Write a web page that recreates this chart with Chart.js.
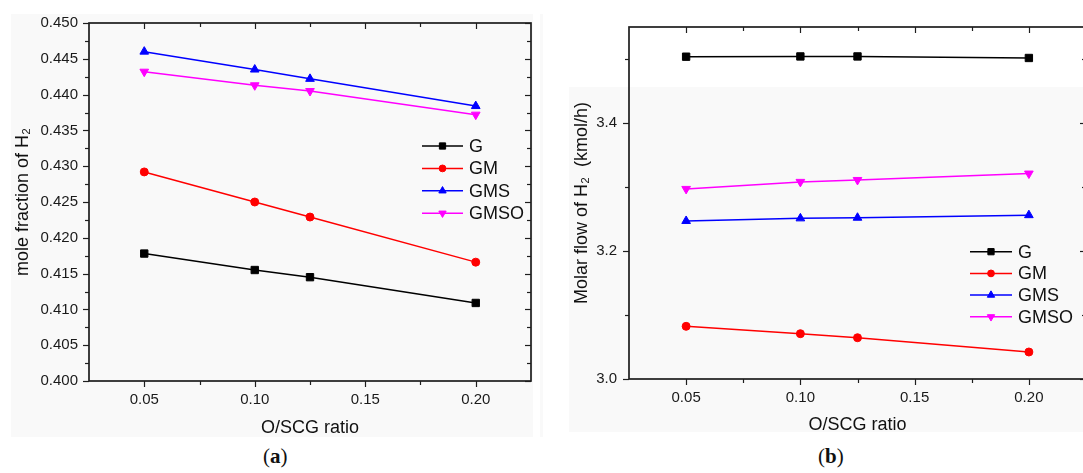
<!DOCTYPE html>
<html>
<head>
<meta charset="utf-8">
<script src="https://cdn.jsdelivr.net/npm/chart.js@4.4.1/dist/chart.umd.min.js"></script>
<style>
  html, body { margin: 0; padding: 0; width: 1083px; height: 473px; overflow: hidden; background: #fff; }
  body { position: relative; font-family: "Liberation Sans", Arial, sans-serif; }
  .bg { position: absolute; background: #f9f9f9; }
  .box { position: absolute; }
  .cap { position: absolute; font-family: "Liberation Serif", "DejaVu Serif", serif; font-size: 21px; color: #111; }
</style>
</head>
<body>
<div class="bg" style="left:11px;top:14px;width:522px;height:423px"></div>
<div class="bg" style="left:540px;top:14px;width:3px;height:423px"></div>
<div class="bg" style="left:569px;top:87px;width:520px;height:345px"></div>
<div class="box" style="left:0;top:0;width:540px;height:440px"><canvas id="chartA"></canvas></div>
<div class="box" style="left:540px;top:0;width:555px;height:440px"><canvas id="chartB"></canvas></div>
<div class="cap" style="left:263px;top:444px">(<b>a</b>)</div>
<div class="cap" style="left:818px;top:444px">(<b>b</b>)</div>

<script>
// O/SCG ratio values on the x axis
const ratios = [0.05, 0.10, 0.125, 0.20];
const seriesNames = ['G', 'GM', 'GMS', 'GMSO'];

// (a) mole fraction of H2
const fracG    = [0.4178, 0.4155, 0.4145, 0.4109];
const fracGM   = [0.4292, 0.4250, 0.4229, 0.4166];
const fracGMS  = [0.4460, 0.4435, 0.4422, 0.4384];
const fracGMSO = [0.4432, 0.4413, 0.4405, 0.4372];

// (b) molar flow of H2 (kmol/h)
const flowG    = [3.5036, 3.5040, 3.5040, 3.5016];
const flowGM   = [3.0823, 3.0708, 3.0645, 3.0422];
const flowGMS  = [3.2469, 3.2510, 3.2520, 3.2560];
const flowGMSO = [3.2970, 3.3080, 3.3110, 3.3210];

// tick values
const xTicks = [0.05, 0.10, 0.15, 0.20];
const xMinorTicks = [0.075, 0.125, 0.175];
const fracTicks = [0.400, 0.405, 0.410, 0.415, 0.420, 0.425, 0.430, 0.435, 0.440, 0.445, 0.450];
const fracMinorTicks = [0.4025, 0.4075, 0.4125, 0.4175, 0.4225, 0.4275, 0.4325, 0.4375, 0.4425, 0.4475];
const flowTicks = [3.0, 3.2, 3.4];
const flowMinorTicks = [3.1, 3.3, 3.5];

const colors = ['#000000', '#ff0000', '#0000ff', '#ff00ff'];
const markers = [
  { pointStyle: 'rect', radius: 5.2, rotation: 0 },
  { pointStyle: 'circle', radius: 4, rotation: 0 },
  { pointStyle: 'triangle', radius: 5, rotation: 0 },
  { pointStyle: 'triangle', radius: 5, rotation: 180 },
];

const FONT = "'Liberation Sans', Arial, sans-serif";

function makeDatasets(seriesList) {
  return seriesList.map((vals, i) => ({
    label: seriesNames[i],
    data: vals.map((v, j) => ({ x: ratios[j], y: v })),
    borderColor: colors[i],
    backgroundColor: colors[i],
    borderWidth: 1.5,
    pointStyle: markers[i].pointStyle,
    pointRadius: markers[i].radius,
    pointRotation: markers[i].rotation,
    pointBackgroundColor: colors[i],
    pointBorderColor: colors[i],
    pointBorderWidth: 1,
    tension: 0,
  }));
}

// axis box with outward ticks on bottom/left, inward ticks on top/right
const framePlugin = {
  id: 'frame',
  beforeDatasetsDraw(chart, args, opts) {
    const { ctx, chartArea: a, scales: { x, y } } = chart;
    ctx.save();
    ctx.strokeStyle = '#1e1e1e';
    ctx.lineWidth = 1.2;
    const seg = (x1, y1, x2, y2) => { ctx.beginPath(); ctx.moveTo(x1, y1); ctx.lineTo(x2, y2); ctx.stroke(); };
    const xt = (v, len) => {
      const px = Math.round(x.getPixelForValue(v)) + 0.5;
      seg(px, a.bottom, px, a.bottom + len);
      seg(px, a.top, px, a.top + len);
    };
    const yt = (v, len) => {
      const py = Math.round(y.getPixelForValue(v)) + 0.5;
      seg(a.left - len, py, a.left, py);
      seg(a.right, py, a.right - len, py);
    };
    x.ticks.forEach(t => xt(t.value, 6));
    opts.xMinor.forEach(v => xt(v, 4));
    y.ticks.forEach(t => yt(t.value, 6));
    opts.yMinor.forEach(v => yt(v, 4));
    ctx.lineWidth = 1.7;
    ctx.strokeRect(a.left, a.top, a.right - a.left, a.bottom - a.top);
    ctx.restore();
  }
};

// legend drawn at a fixed spot inside the plot
const legendPlugin = {
  id: 'boxLegend',
  afterDatasetsDraw(chart, args, opts) {
    const { ctx } = chart;
    ctx.save();
    chart.data.datasets.forEach((ds, i) => {
      const yy = opts.y + i * opts.rowH;
      ctx.strokeStyle = ds.borderColor;
      ctx.lineWidth = 1.5;
      ctx.beginPath();
      ctx.moveTo(opts.x, yy);
      ctx.lineTo(opts.x + opts.lineW, yy);
      ctx.stroke();
      ctx.fillStyle = ds.pointBackgroundColor;
      ctx.strokeStyle = ds.pointBorderColor;
      ctx.lineWidth = 1;
      Chart.helpers.drawPoint(ctx, {
        pointStyle: ds.pointStyle,
        radius: ds.pointRadius * 0.85,
        rotation: ds.pointRotation,
        borderWidth: 1
      }, opts.x + opts.lineW / 2, yy);
      ctx.fillStyle = '#111';
      ctx.font = '18px ' + FONT;
      ctx.textBaseline = 'middle';
      ctx.textAlign = 'left';
      ctx.fillText(ds.label, opts.x + opts.lineW + 6, yy + 1);
    });
    ctx.restore();
  }
};

function makeChart(id, cfg) {
  return new Chart(document.getElementById(id), {
    type: 'line',
    data: { datasets: makeDatasets(cfg.series) },
    options: {
      responsive: true,
      maintainAspectRatio: false,
      animation: false,
      devicePixelRatio: 1,
      layout: { autoPadding: false, padding: cfg.padding },
      plugins: {
        legend: { display: false },
        tooltip: { enabled: false },
        frame: { xMinor: xMinorTicks, yMinor: cfg.yMinor },
        boxLegend: cfg.legend,
      },
      scales: {
        x: {
          type: 'linear',
          min: 0.025,
          max: 0.225,
          afterBuildTicks: s => { s.ticks = xTicks.map(v => ({ value: v })); },
          afterFit: s => { s.height = cfg.xHeight; },
          grid: { display: false, drawTicks: false },
          border: { display: false },
          ticks: {
            padding: 10,
            color: '#1a1a1a',
            font: { size: 15, family: FONT },
            maxRotation: 0,
            callback: v => v.toFixed(2),
          },
          title: {
            display: true,
            text: 'O/SCG ratio',
            color: '#111',
            font: { size: 18, family: FONT },
            padding: { top: 0, bottom: cfg.xTitlePad },
          },
        },
        y: {
          min: cfg.yMin,
          max: cfg.yMax,
          afterBuildTicks: s => { s.ticks = cfg.yTicks.map(v => ({ value: v })); },
          afterFit: s => { s.width = 89; },
          grid: { display: false, drawTicks: false },
          border: { display: false },
          ticks: {
            padding: cfg.yTickPad,
            color: '#1a1a1a',
            font: { size: 15, family: FONT },
            callback: v => v.toFixed(cfg.digits),
          },
          title: {
            display: true,
            text: cfg.yTitle,
            color: '#111',
            font: { size: 18, family: FONT },
            padding: { top: cfg.yTitlePad, bottom: 0 },
          },
        },
      },
    },
    plugins: [framePlugin, legendPlugin],
  });
}

makeChart('chartA', {
  series: [fracG, fracGM, fracGMS, fracGMSO],
  padding: { left: 0, top: 23, right: 9, bottom: 0 },
  xHeight: 59,
  xTitlePad: 1,
  yMin: 0.400, yMax: 0.450,
  yTicks: fracTicks, yMinor: fracMinorTicks,
  digits: 3, yTickPad: 11, yTitlePad: 12,
  yTitle: 'mole fraction of H\u2082',
  legend: { x: 422, y: 146, rowH: 22.4, lineW: 41 },
});

makeChart('chartB', {
  series: [flowG, flowGM, flowGMS, flowGMSO],
  padding: { left: 0, top: 27, right: 9, bottom: 0 },
  xHeight: 61,
  xTitlePad: 4,
  yMin: 3.0, yMax: 3.55,
  yTicks: flowTicks, yMinor: flowMinorTicks,
  digits: 1, yTickPad: 12, yTitlePad: 31,
  yTitle: 'Molar flow of H\u2082  (kmol/h)',
  legend: { x: 430, y: 251.7, rowH: 21.7, lineW: 42 },
});
</script>
</body>
</html>
